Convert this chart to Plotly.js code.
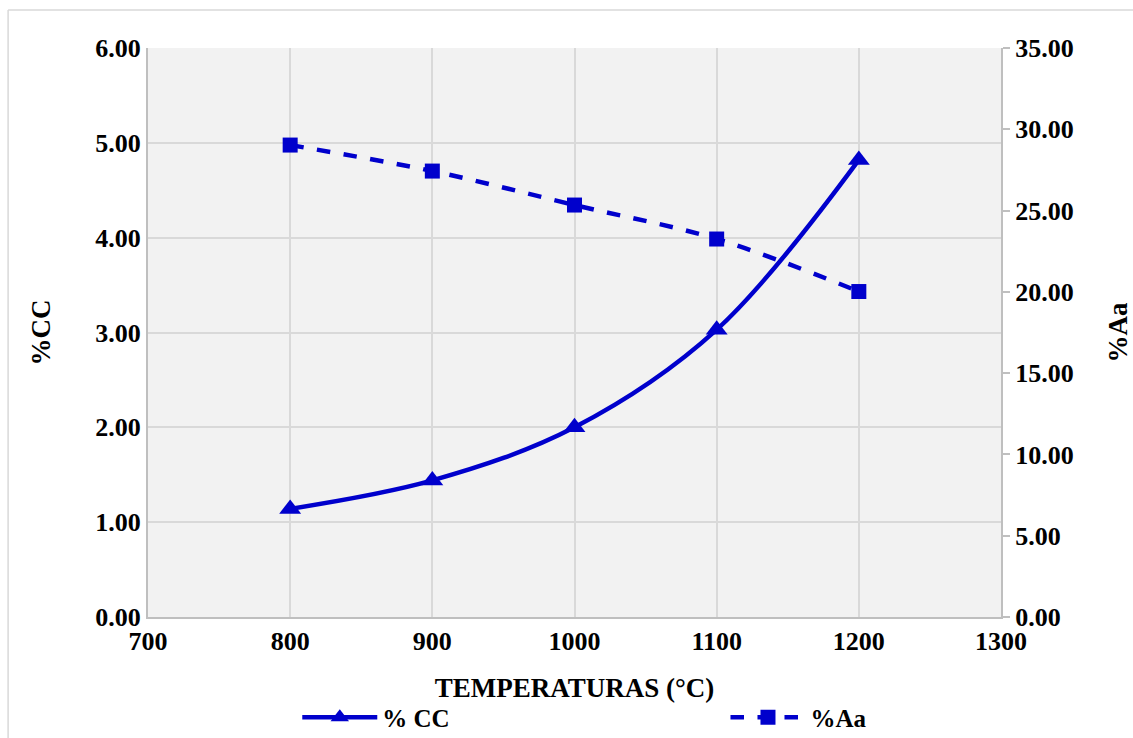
<!DOCTYPE html>
<html>
<head>
<meta charset="utf-8">
<script src="https://cdn.plot.ly/plotly-3.0.1.min.js"></script>
<style>
html,body{margin:0;padding:0;background:#fff;}
#chart{width:1133px;height:738px;}
</style>
</head>
<body>
<div id="chart"></div>
<script>
const temperaturas = [800, 900, 1000, 1100, 1200];
const pctCC = [1.14, 1.44, 2.00, 3.03, 4.82];
const pctAa = [29.03, 27.43, 25.34, 23.25, 20.02];
const xTicks = [700, 800, 900, 1000, 1100, 1200, 1300];
const yTicks = [0, 1, 2, 3, 4, 5, 6];
const y2Ticks = [0, 5, 10, 15, 20, 25, 30, 35];

const blue = '#0000CC';
const fam = '"Liberation Serif", "Times New Roman", serif';
const tickFont = {family: fam, size: 26, color: '#000'};
const titleFont = {family: fam, size: 27, color: '#000'};
const legendFont = {family: fam, size: 25, color: '#000'};
const bold = s => '<b>' + s + '</b>';

const traces = [
  {
    x: temperaturas, y: pctCC, name: bold('% CC'), type: 'scatter', mode: 'lines+markers',
    line: {color: blue, width: 4.5, shape: 'spline'},
    marker: {symbol: 'triangle-up', size: 19, color: blue},
    yaxis: 'y', legend: 'legend'
  },
  {
    x: temperaturas, y: pctAa, name: bold('%Aa'), type: 'scatter', mode: 'lines+markers',
    line: {color: blue, width: 4.5, dash: 'dash', shape: 'spline'},
    marker: {symbol: 'square', size: 15, color: blue},
    yaxis: 'y2', legend: 'legend2'
  }
];

const legendBase = {
  orientation: 'h', xanchor: 'left', y: -0.136, yanchor: 'top',
  font: legendFont, bgcolor: 'rgba(0,0,0,0)', itemwidth: 75
};

const layout = {
  width: 1133, height: 738,
  margin: {l: 148, r: 132, t: 48, b: 121, autoexpand: false},
  paper_bgcolor: '#ffffff',
  plot_bgcolor: '#f2f2f2',
  font: tickFont,
  showlegend: true,
  legend: Object.assign({}, legendBase, {x: 0.175}),
  legend2: Object.assign({}, legendBase, {x: 0.677}),
  xaxis: {
    range: [700, 1300], tickvals: xTicks, ticktext: xTicks.map(v => bold(v)),
    showgrid: true, gridcolor: '#d9d9d9', gridwidth: 2,
    showline: true, linecolor: '#bfbfbf', linewidth: 2,
    ticks: '', zeroline: false, automargin: false,
    title: {text: bold('TEMPERATURAS (°C)'), font: titleFont, standoff: 23},
    tickfont: tickFont
  },
  yaxis: {
    range: [0, 6], tickvals: yTicks, ticktext: yTicks.map(v => bold(v.toFixed(2))),
    showgrid: true, gridcolor: '#d9d9d9', gridwidth: 2,
    showline: true, linecolor: '#bfbfbf', linewidth: 2,
    ticks: '', zeroline: false, automargin: false,
    title: {text: bold('%CC'), font: titleFont, standoff: 37},
    tickfont: tickFont
  },
  yaxis2: {
    overlaying: 'y', side: 'right',
    range: [0, 35], tickvals: y2Ticks, ticktext: y2Ticks.map(v => bold(v.toFixed(2))),
    showgrid: false,
    showline: true, linecolor: '#bfbfbf', linewidth: 2,
    ticks: 'outside', ticklen: 7, tickcolor: '#bfbfbf', tickwidth: 2,
    zeroline: false, automargin: false,
    title: {text: bold('%Aa'), font: titleFont, standoff: 48},
    tickfont: tickFont
  },
  shapes: [
    {type: 'line', xref: 'paper', yref: 'paper', x0: -0.164, x1: 1.2, y0: 1.0668, y1: 1.0668,
     line: {color: '#d9d9d9', width: 1.5}},
    {type: 'line', xref: 'paper', yref: 'paper', x0: -0.164, x1: -0.164, y0: 1.0668, y1: -0.25,
     line: {color: '#d9d9d9', width: 1.5}}
  ]
};

Plotly.newPlot('chart', traces, layout, {displayModeBar: false, staticPlot: true});
</script>
</body>
</html>
